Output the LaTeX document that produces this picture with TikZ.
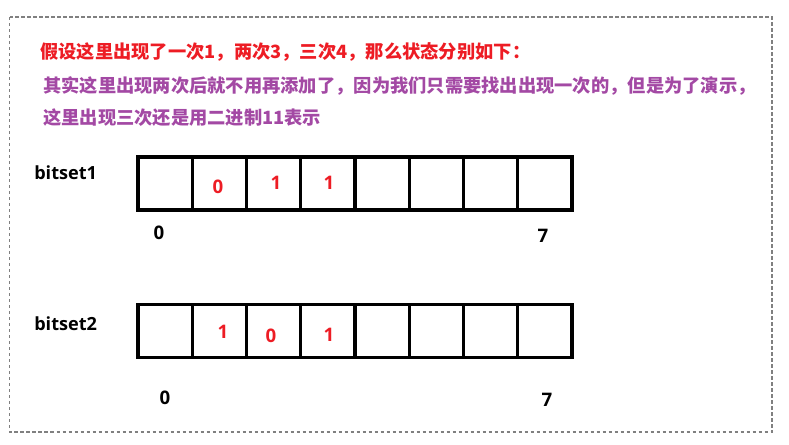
\documentclass[tikz,border=0pt]{standalone}
\usepackage{fontspec}
\setmainfont{Open Sans}
\newfontfamily\cjk{Noto Sans CJK SC}
\definecolor{pred}{RGB}{237,28,36}
\definecolor{ppurple}{RGB}{163,73,164}
\definecolor{pgray}{RGB}{128,128,128}
\begin{document}
\begin{tikzpicture}[x=0.75pt,y=-0.75pt,
  cell/.style={draw=black,line width=2.4pt,minimum width=54.25*0.75pt,minimum height=53*0.75pt,inner sep=0pt},
  headline/.style={anchor=west,inner sep=0pt,font=\cjk\bfseries\fontsize{13.7pt}{16pt}\selectfont},
  bitval/.style={text=pred,inner sep=0pt,font=\bfseries\fontsize{14pt}{16pt}\selectfont},
  idx/.style={inner sep=0pt,font=\bfseries\fontsize{14pt}{16pt}\selectfont},
  setname/.style={anchor=west,inner sep=0pt,font=\bfseries\fontsize{13.6pt}{15pt}\selectfont}]
\useasboundingbox (0,0) rectangle (789,444);
\draw[pgray,line width=0.8pt,dash pattern=on 2.5pt off 2pt] (9.5,17) rectangle (772,432);
\node[headline,text=pred] (t1) at (40,52) {假设这里出现了一次1，两次3，三次4，那么状态分别如下：};
\node[headline,text=ppurple] (t2) at (43,86) {其实这里出现两次后就不用再添加了，因为我们只需要找出出现一次的，但是为了演示，};
\node[headline,text=ppurple] (t3) at (43,118) {这里出现三次还是用二进制11表示};
\node[setname] (n1) at (34,173) {bitset1};
\node[setname] (n2) at (34,324) {bitset2};
\foreach \i in {0,...,7}{
  \node[cell] (a\i) at ({138+54.25*(\i+0.5)},183.5) {};
  \node[cell] (b\i) at ({138+54.25*(\i+0.5)},331) {};
}
\node[bitval] (a1v) at (218,187) {0};
\node[bitval] (a2v) at (276,183) {1};
\node[bitval] (a3v) at (329,183) {1};
\node[bitval] (b1v) at (223,332) {1};
\node[bitval] (b2v) at (271,336) {0};
\node[bitval] (b3v) at (329,335) {1};
\node[idx] (a0i) at (159,233) {0};
\node[idx] (a7i) at (543,236) {7};
\node[idx] (b0i) at (165,398) {0};
\node[idx] (b7i) at (547,400) {7};
\end{tikzpicture}
\end{document}
